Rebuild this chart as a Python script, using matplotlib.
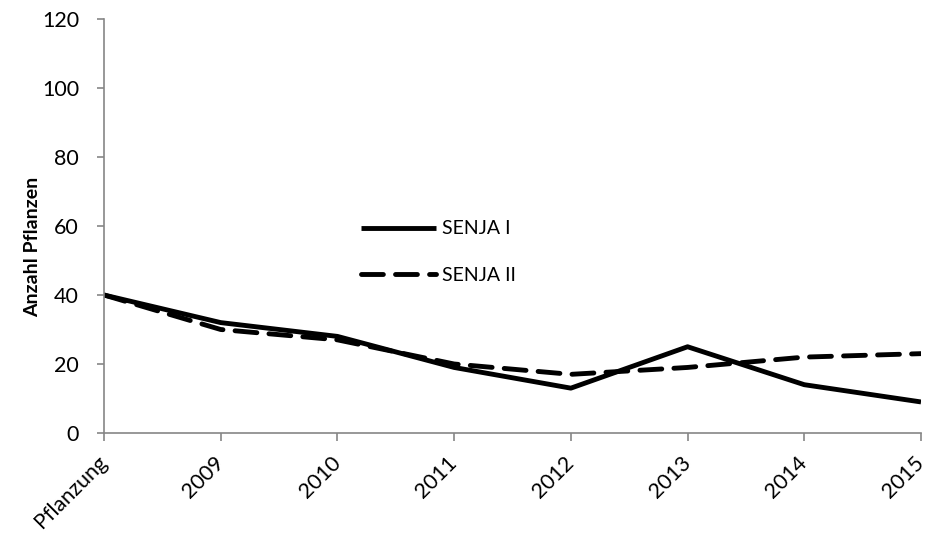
import matplotlib
matplotlib.use("Agg")
import matplotlib.pyplot as plt

categories = ["Pflanzung", "2009", "2010", "2011", "2012", "2013", "2014", "2015"]
senja1 = [40, 32, 28, 19, 13, 25, 14, 9]
senja2 = [40, 30, 27, 20, 17, 19, 22, 23]
yticks = [0, 20, 40, 60, 80, 100, 120]

plt.rcParams['font.family'] = ['Lato', 'DejaVu Sans']

fig = plt.figure(figsize=(9.27, 5.44), dpi=100)
ax = fig.add_axes([104/927, 1-433/544, (921-104)/927, (433-19)/544])

x = list(range(len(categories)))
ax.plot(x, senja1, color='black', lw=3.5, solid_capstyle='butt', label='SENJA I')
ax.plot(x, senja2, color='black', lw=3.5, linestyle=(0, (4.5, 2.5)), dash_capstyle='round', label='SENJA II')

ax.set_xlim(0, len(categories)-1)
ax.set_ylim(0, 120)
ax.set_yticks(yticks)
ax.set_xticks(x)
ax.set_xticklabels(categories, rotation=45, ha='right', va='center', rotation_mode='anchor')
ax.tick_params(axis='both', labelsize=15.5, color='#868686', width=1.2)
ax.tick_params(axis='x', length=6, pad=13)
ax.tick_params(axis='y', length=5, pad=13)
for s in ['top', 'right']:
    ax.spines[s].set_visible(False)
for s in ['left', 'bottom']:
    ax.spines[s].set_color('#868686')
    ax.spines[s].set_linewidth(1.2)
ax.spines['bottom'].set_clip_on(False)
ax.set_ylabel('Anzahl Pflanzen', fontsize=14, fontweight='bold')
ax.yaxis.set_label_coords((41-104)/817, (433-247)/414)

leg = ax.legend(loc='upper left', bbox_to_anchor=((343-104)/817, 1-(203-19)/414),
                frameon=False, fontsize=14, handlelength=3.9, handletextpad=0.3,
                labelspacing=1.5)

fig.savefig('out.png', dpi=100)
